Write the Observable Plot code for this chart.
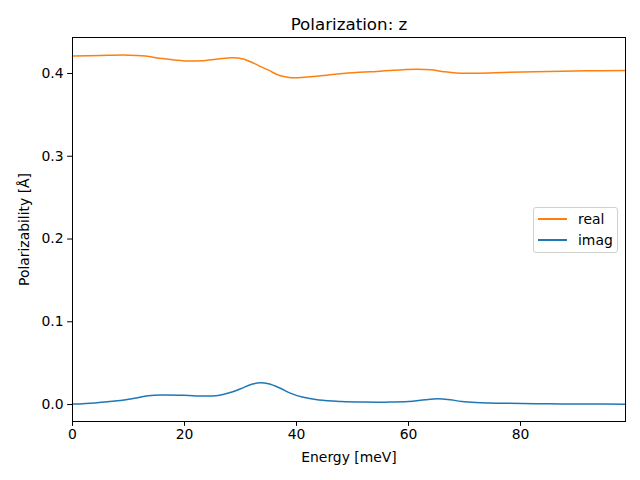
<!DOCTYPE html>
<html>
<head>
<meta charset="utf-8">
<script src="https://cdn.jsdelivr.net/npm/d3@7"></script>
<script src="https://cdn.jsdelivr.net/npm/@observablehq/plot@0.6"></script>
<style>
  body { margin: 0; background: #fff; font-family: "DejaVu Sans", sans-serif; }
  #wrap { position: relative; width: 640px; height: 480px; }
  #legend { position: absolute; left: 533px; top: 207px; width: 85px; height: 46px; border: 1px solid #d0d0d0; border-radius: 3px; background: rgba(255,255,255,0.8); font-size: 13.9px; font-family: "DejaVu Sans", sans-serif; color: #000; box-sizing: border-box; }
  .item { position: absolute; left: 4px; height: 16px; display: flex; align-items: center; }
  .sw { width: 29px; height: 2px; margin-right: 11px; }
</style>
</head>
<body>
<div id="wrap"></div>
<script>
const realE = [0, 5, 10, 13, 16, 20, 23, 26, 28.5, 30.5, 32.5, 35, 37, 39, 42, 46, 50, 55, 59, 61.5, 64, 66, 68.5, 72, 78, 85, 92, 98.75];
const realV = [0.421, 0.4218, 0.4222, 0.421, 0.418, 0.4152, 0.4155, 0.4175, 0.419, 0.4175, 0.412, 0.404, 0.3975, 0.395, 0.3958, 0.3985, 0.4008, 0.4028, 0.4045, 0.4052, 0.4045, 0.4025, 0.4005, 0.4003, 0.4015, 0.4025, 0.4032, 0.4036];
const imagE = [0, 4, 8, 11, 13.5, 16, 20, 23.5, 26, 28, 30, 32, 33.5, 35, 37, 39, 41, 44, 48, 52, 56, 60, 63, 65.2, 67, 69.5, 72, 78, 85, 92, 98.75];
const imagV = [0.0005, 0.002, 0.0045, 0.0075, 0.0105, 0.0115, 0.0112, 0.0102, 0.011, 0.0142, 0.019, 0.0245, 0.0262, 0.025, 0.02, 0.0135, 0.009, 0.0055, 0.0037, 0.003, 0.0029, 0.0036, 0.0058, 0.0069, 0.0062, 0.0038, 0.0026, 0.0015, 0.0009, 0.0006, 0.0004];
const xTicks = [0, 20, 40, 60, 80];
const yTicks = [0.0, 0.1, 0.2, 0.3, 0.4];
const seriesNames = ["real", "imag"];
const seriesColors = ["#ff7f0e", "#1f77b4"];
const titleText = "Polarization: z";

const real = realE.map((e, i) => ({E: e, v: realV[i]}));
const imag = imagE.map((e, i) => ({E: e, v: imagV[i]}));

const chart = Plot.plot({
  width: 640,
  height: 480,
  marginTop: 37,
  marginLeft: 72,
  marginRight: 15,
  marginBottom: 59,
  style: {fontFamily: "DejaVu Sans, sans-serif", fontSize: "13.9px", color: "#000", background: "#fff"},
  x: {domain: [0, 98.75]},
  y: {domain: [-0.0205, 0.4435]},
  marks: [
    Plot.line(imag, {x: "E", y: "v", stroke: seriesColors[1], strokeWidth: 1.5, curve: "catmull-rom"}),
    Plot.line(real, {x: "E", y: "v", stroke: seriesColors[0], strokeWidth: 1.5, curve: "catmull-rom"}),
    Plot.frame({stroke: "#000", strokeWidth: 1}),
    Plot.axisX({ticks: xTicks, tickSize: 4.9, tickPadding: 3, fontSize: 13.9, tickFormat: d3.format("d"), label: "Energy [meV]", labelAnchor: "center", labelArrow: "none", labelOffset: 40}),
    Plot.axisY({ticks: yTicks, tickSize: 4.9, tickPadding: 4, fontSize: 13.9, tickFormat: d3.format(".1f"), label: "Polarizability [Å]", labelAnchor: "center", labelArrow: "none", labelOffset: 53}),
    Plot.text([titleText], {frameAnchor: "top", dy: -8, fontSize: 16.7, text: d => d, lineAnchor: "bottom"})
  ]
});
document.getElementById("wrap").appendChild(chart);

const leg = document.createElement("div");
leg.id = "legend";
seriesNames.forEach((name, i) => {
  const it = document.createElement("div");
  it.className = "item";
  it.style.top = (3 + i * 21) + "px";
  it.innerHTML = `<span class="sw" style="background:${seriesColors[i]}"></span><span>${name}</span>`;
  leg.appendChild(it);
});
document.getElementById("wrap").appendChild(leg);
</script>
</body>
</html>
